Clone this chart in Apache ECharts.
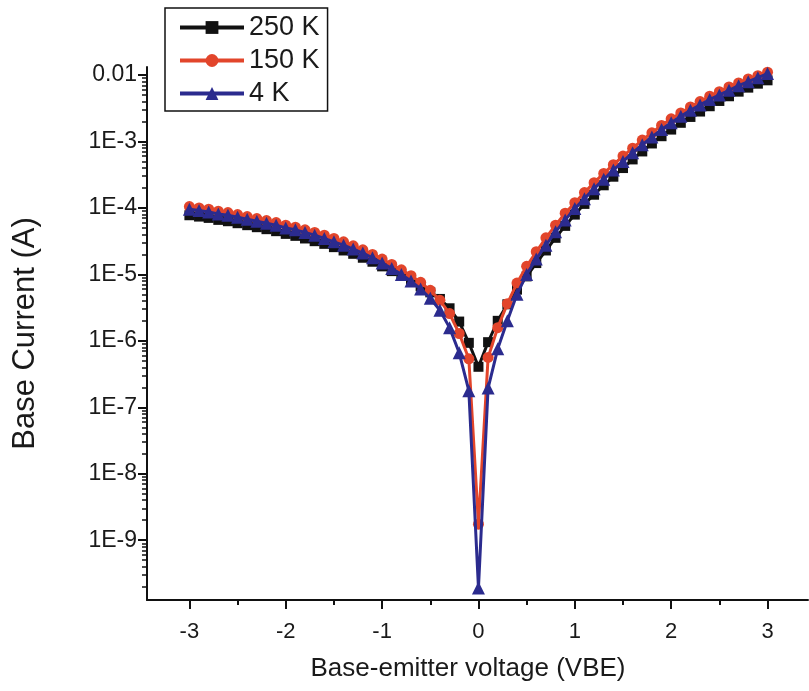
<!DOCTYPE html>
<html>
<head>
<meta charset="utf-8">
<script src="https://cdn.jsdelivr.net/npm/echarts@6/dist/echarts.min.js"></script>
<style>
  html, body { margin: 0; padding: 0; background: #ffffff; }
  #chart { width: 809px; height: 691px; }
</style>
</head>
<body>
<div id="chart"></div>
<script>
// Base-emitter voltage sweep (V)
const voltage = [
  -3.0, -2.9, -2.8, -2.7, -2.6, -2.5, -2.4, -2.3, -2.2, -2.1,
  -2.0, -1.9, -1.8, -1.7, -1.6, -1.5, -1.4, -1.3, -1.2, -1.1,
  -1.0, -0.9, -0.8, -0.7, -0.6, -0.5, -0.4, -0.3, -0.2, -0.1,
  0.0,
  0.1, 0.2, 0.3, 0.4, 0.5, 0.6, 0.7, 0.8, 0.9, 1.0,
  1.1, 1.2, 1.3, 1.4, 1.5, 1.6, 1.7, 1.8, 1.9, 2.0,
  2.1, 2.2, 2.3, 2.4, 2.5, 2.6, 2.7, 2.8, 2.9, 3.0
];

// Base current (A) at 250 K
const current250K = [
  7.76e-5, 7.41e-5, 7.08e-5, 6.61e-5, 6.31e-5, 5.89e-5, 5.50e-5, 5.13e-5, 4.79e-5, 4.47e-5,
  4.07e-5, 3.80e-5, 3.47e-5, 3.16e-5, 2.88e-5, 2.57e-5, 2.29e-5, 2.04e-5, 1.78e-5, 1.55e-5,
  1.32e-5, 1.12e-5, 9.55e-6, 7.94e-6, 6.61e-6, 5.37e-6, 4.27e-6, 3.09e-6, 1.95e-6, 9.33e-7,
  4.07e-7,
  9.55e-7, 2.00e-6, 3.55e-6, 5.89e-6, 9.33e-6, 1.48e-5, 2.29e-5, 3.55e-5, 5.37e-5, 7.94e-5,
  1.15e-4, 1.58e-4, 2.19e-4, 2.95e-4, 3.98e-4, 5.37e-4, 7.08e-4, 9.33e-4, 1.20e-3, 1.51e-3,
  1.91e-3, 2.34e-3, 2.82e-3, 3.39e-3, 4.07e-3, 4.79e-3, 5.62e-3, 6.46e-3, 7.41e-3, 8.32e-3
];

// Base current (A) at 150 K
const current150K = [
  1.05e-4, 1.00e-4, 9.55e-5, 8.91e-5, 8.51e-5, 7.94e-5, 7.41e-5, 6.92e-5, 6.46e-5, 6.03e-5,
  5.50e-5, 5.13e-5, 4.68e-5, 4.27e-5, 3.89e-5, 3.47e-5, 3.09e-5, 2.69e-5, 2.34e-5, 2.00e-5,
  1.70e-5, 1.41e-5, 1.17e-5, 9.55e-6, 7.59e-6, 5.75e-6, 4.07e-6, 2.57e-6, 1.29e-6, 5.37e-7,
  1.74e-9,
  5.62e-7, 1.58e-6, 3.63e-6, 7.41e-6, 1.32e-5, 2.19e-5, 3.55e-5, 5.50e-5, 8.32e-5, 1.20e-4,
  1.70e-4, 2.40e-4, 3.31e-4, 4.47e-4, 6.03e-4, 7.94e-4, 1.05e-3, 1.35e-3, 1.74e-3, 2.19e-3,
  2.69e-3, 3.31e-3, 3.98e-3, 4.79e-3, 5.62e-3, 6.61e-3, 7.59e-3, 8.71e-3, 9.77e-3, 1.10e-2
];

// Base current (A) at 4 K
const current4K = [
  9.55e-5, 9.12e-5, 8.71e-5, 8.13e-5, 7.76e-5, 7.24e-5, 6.76e-5, 6.31e-5, 5.89e-5, 5.50e-5,
  5.01e-5, 4.68e-5, 4.27e-5, 3.89e-5, 3.47e-5, 3.09e-5, 2.75e-5, 2.40e-5, 2.09e-5, 1.78e-5,
  1.48e-5, 1.23e-5, 1.00e-5, 7.94e-6, 6.03e-6, 4.37e-6, 2.88e-6, 1.58e-6, 6.61e-7, 1.78e-7,
  1.91e-10,
  1.95e-7, 7.59e-7, 2.00e-6, 5.01e-6, 1.00e-5, 1.70e-5, 2.75e-5, 4.37e-5, 6.61e-5, 9.77e-5,
  1.38e-4, 1.95e-4, 2.69e-4, 3.72e-4, 5.01e-4, 6.76e-4, 8.91e-4, 1.17e-3, 1.51e-3, 1.91e-3,
  2.40e-3, 2.95e-3, 3.55e-3, 4.27e-3, 5.01e-3, 5.89e-3, 6.92e-3, 7.94e-3, 9.12e-3, 1.05e-2
];

const seriesNames = ['250 K', '150 K', '4 K'];

// Axis ticks and their labels
const xMajorTicks = [-3, -2, -1, 0, 1, 2, 3];
const xMinorTicks = [-2.5, -1.5, -0.5, 0.5, 1.5, 2.5];
const yMajorTicks = [1e-9, 1e-8, 1e-7, 1e-6, 1e-5, 1e-4, 1e-3, 1e-2];
const yTickLabels = ['1E-9', '1E-8', '1E-7', '1E-6', '1E-5', '1E-4', '1E-3', '0.01'];
const yMinorTicks = [];
for (let e = -10; e <= -3; e++) {
  for (let m = 2; m <= 9; m++) {
    const v = m * Math.pow(10, e);
    if (v > 1.26e-10 && v < 1.32e-2) yMinorTicks.push(v);
  }
}

const pairs = (ys) => voltage.map((v, i) => [v, ys[i]]);

const FONT = '"Liberation Sans", Arial, sans-serif';
const INK = '#1a1a1a';
const X_MIN = -3.44;
const X_MAX = 3.42;

const chart = echarts.init(document.getElementById('chart'), null, { renderer: 'canvas' });

chart.setOption({
  animation: false,
  backgroundColor: '#ffffff',
  textStyle: { fontFamily: FONT, color: INK },
  grid: { left: 147, top: 67, right: 1, bottom: 91, outerBoundsMode: 'none', containLabel: false },
  legend: {
    orient: 'vertical',
    left: 165,
    top: 8,
    data: seriesNames,
    itemWidth: 64,
    itemHeight: 16,
    itemGap: 6,
    padding: [6, 8, 4, 13],
    borderColor: '#111111',
    borderWidth: 1.5,
    lineStyle: { width: 4 },
    textStyle: { fontFamily: FONT, fontSize: 27, color: INK }
  },
  xAxis: [
    {
      type: 'value',
      min: X_MIN,
      max: X_MAX,
      position: 'bottom',
      name: 'Base-emitter voltage (VBE)',
      nameLocation: 'middle',
      nameGap: 56,
      nameTextStyle: { fontFamily: FONT, fontSize: 26, color: INK, padding: [0, 19, 0, 0] },
      axisLine: { onZero: false, lineStyle: { color: '#111111', width: 2 } },
      axisTick: { customValues: xMajorTicks, length: 9, lineStyle: { color: '#111111', width: 2 } },
      axisLabel: {
        customValues: xMajorTicks,
        fontFamily: FONT, fontSize: 22, color: INK, margin: 21,
        formatter: (v) => String(v)
      },
      splitLine: { show: false }
    },
    {
      type: 'value',
      min: X_MIN,
      max: X_MAX,
      position: 'bottom',
      axisLine: { show: false, onZero: false },
      axisTick: { customValues: xMinorTicks, length: 5, lineStyle: { color: '#111111', width: 2 } },
      axisLabel: { show: false },
      splitLine: { show: false }
    }
  ],
  yAxis: [
    {
      type: 'log',
      logBase: 10,
      min: 1.26e-10,
      max: 1.32e-2,
      position: 'left',
      name: 'Base Current (A)',
      nameLocation: 'middle',
      nameGap: 106,
      nameRotate: 90,
      nameTextStyle: { fontFamily: FONT, fontSize: 31, color: INK },
      axisLine: { onZero: false, lineStyle: { color: '#111111', width: 2 } },
      axisTick: { customValues: yMajorTicks, length: 9, lineStyle: { color: '#111111', width: 2 } },
      axisLabel: {
        customValues: yMajorTicks,
        fontFamily: FONT, fontSize: 23, color: INK, margin: 10,
        formatter: (v) => yTickLabels[yMajorTicks.findIndex((t) => Math.abs(Math.log10(t) - Math.log10(v)) < 1e-6)]
      },
      splitLine: { show: false }
    },
    {
      type: 'log',
      logBase: 10,
      min: 1.26e-10,
      max: 1.32e-2,
      position: 'left',
      axisLine: { show: false, onZero: false },
      axisTick: { customValues: yMinorTicks, length: 5, lineStyle: { color: '#111111', width: 1.5 } },
      axisLabel: { show: false },
      splitLine: { show: false }
    }
  ],
  series: [
    {
      name: seriesNames[0], type: 'line', data: pairs(current250K),
      symbol: 'rect', symbolSize: 10, showAllSymbol: true,
      color: '#111111', lineStyle: { width: 3, color: '#111111' }, z: 2
    },
    {
      name: seriesNames[1], type: 'line', data: pairs(current150K),
      symbol: 'circle', symbolSize: 11, showAllSymbol: true,
      color: '#e2452b', lineStyle: { width: 3, color: '#e2452b' }, z: 3
    },
    {
      name: seriesNames[2], type: 'line', data: pairs(current4K),
      symbol: 'triangle', symbolSize: 13, showAllSymbol: true,
      color: '#2b2b8e', lineStyle: { width: 3, color: '#2b2b8e' }, z: 4
    }
  ]
});
</script>
</body>
</html>
